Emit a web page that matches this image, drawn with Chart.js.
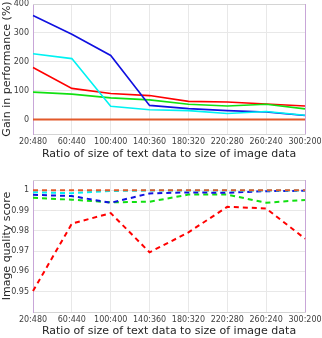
<!DOCTYPE html>
<html>
<head>
<meta charset="utf-8">
<script src="https://cdn.jsdelivr.net/npm/chart.js@4"></script>
<style>
  body { margin: 0; background: #fff; }
  #wrap { position: relative; width: 322px; height: 338px; }
  canvas { position: absolute; left: 0; }
  #gainChart { top: 0; }
  #qualityChart { top: 161px; }
</style>
</head>
<body>
<div id="wrap">
  <canvas id="gainChart" width="322" height="161"></canvas>
  <canvas id="qualityChart" width="322" height="177"></canvas>
</div>
<script>
// categories (text:image size ratio)
const ratios = ['20:480', '60:440', '100:400', '140:360', '180:320', '220:280', '260:240', '300:200'];

// gain in performance (%)
const gainRed    = [180, 108, 90, 83, 63, 61, 54, 47];
const gainGreen  = [95, 88, 75, 68, 53, 47, 53, 37];
const gainBlue   = [360, 295, 222, 49, 38, 31, 26, 14];
const gainCyan   = [228, 211, 46, 34, 31, 21, 28, 15];
const gainOrange = [0, 0, 0, 0, 0, 0, 0, 0];
const gainTicks  = [0, 100, 200, 300, 400];

// image quality score
const qualRed    = [0.9503, 0.9835, 0.9887, 0.9694, 0.9792, 0.9918, 0.9910, 0.9761];
const qualGreen  = [0.9962, 0.9953, 0.9940, 0.9943, 0.9978, 0.9978, 0.9938, 0.9952];
const qualBlue   = [0.9977, 0.9971, 0.9938, 0.9984, 0.9989, 0.9987, 0.9995, 0.9997];
const qualCyan   = [0.9990, 0.9985, 0.9996, 0.9998, 0.9998, 0.9998, 0.9998, 0.9998];
const qualOrange = [1, 1, 1, 1, 1, 1, 1, 1];
const qualTicks  = [0.95, 0.96, 0.97, 0.98, 0.99, 1];

const RED = '#ff0000', GREEN = '#11e011', BLUE = '#1010e0', CYAN = '#00f2f2', ORANGE = '#e2592a';
const PURPLE = '#c8a6d8', GRID = '#e8e8e8', EDGE = '#d4d4d4';

Chart.defaults.font.family = 'DejaVu Sans';
Chart.defaults.color = '#404040';

// right (purple) and top (gray) edges of the axes box
const boxLines = {
    id: 'boxLines',
    beforeDatasetsDraw(chart) {
        const a = chart.chartArea, ctx = chart.ctx;
        ctx.save();
        ctx.lineWidth = 1;
        ctx.strokeStyle = EDGE;
        ctx.beginPath();
        ctx.moveTo(a.left, a.top + 0.5);
        ctx.lineTo(a.right, a.top + 0.5);
        ctx.stroke();
        ctx.strokeStyle = PURPLE;
        ctx.beginPath();
        ctx.moveTo(a.right + 0.5, a.top);
        ctx.lineTo(a.right + 0.5, a.bottom);
        ctx.stroke();
        ctx.restore();
    }
};

function line(data, color, dashed, width) {
    return {
        data: data,
        borderColor: color,
        borderWidth: width || (dashed ? 2 : 1.6),
        borderDash: dashed ? [5, 4] : [],
        pointRadius: 0,
        tension: 0,
        fill: false
    };
}

function axes(yMin, yMax, yTicks, yTitle, xHeight, fmt) {
    return {
        x: {
            offset: false,
            grid: { color: GRID, drawTicks: false },
            border: { color: EDGE },
            ticks: { font: { size: 8 }, padding: 3, maxRotation: 0, autoSkip: false },
            title: {
                display: true,
                text: 'Ratio of size of text data to size of image data',
                font: { size: 11 }, color: '#262626',
                padding: { top: 0, bottom: 0 }
            },
            afterFit: function(s) {
                s.height = xHeight;
                s.paddingLeft = 0;
                s.paddingRight = 0;
            }
        },
        y: {
            min: yMin,
            max: yMax,
            grid: { color: GRID, drawTicks: false },
            border: { color: PURPLE },
            ticks: { font: { size: 8 }, padding: 4, callback: fmt },
            title: {
                display: true,
                text: yTitle,
                font: { size: 11 }, color: '#262626',
                padding: { top: 1, bottom: 0 }
            },
            afterBuildTicks: function(s) {
                s.ticks = yTicks.map(v => ({ value: v }));
            },
            afterFit: function(s) {
                s.width = 33;
                s.paddingTop = 0;
                s.paddingBottom = 0;
            }
        }
    };
}

// Gain in performance chart
new Chart(document.getElementById('gainChart').getContext('2d'), {
    type: 'line',
    data: {
        labels: ratios,
        datasets: [
            line(gainOrange, ORANGE, false, 2),
            line(gainCyan, CYAN, false),
            line(gainBlue, BLUE, false),
            line(gainGreen, GREEN, false),
            line(gainRed, RED, false)
        ]
    },
    options: {
        responsive: false,
        animation: false,
        layout: { padding: { top: 4, right: 17, left: 0, bottom: 0 } },
        scales: axes(-50, 400, gainTicks, 'Gain in performance (%)', 27, v => String(v)),
        plugins: { legend: { display: false }, tooltip: { enabled: false } }
    },
    plugins: [boxLines]
});

// Image quality score chart
new Chart(document.getElementById('qualityChart').getContext('2d'), {
    type: 'line',
    data: {
        labels: ratios,
        datasets: [
            line(qualOrange, ORANGE, true),
            line(qualCyan, CYAN, true),
            line(qualBlue, BLUE, true),
            line(qualGreen, GREEN, true),
            line(qualRed, RED, true)
        ]
    },
    options: {
        responsive: false,
        animation: false,
        layout: { padding: { top: 19, right: 17, left: 0, bottom: 0 } },
        scales: axes(0.94, 1.005, qualTicks, 'Image quality score', 26, v => String(+v.toFixed(2))),
        plugins: { legend: { display: false }, tooltip: { enabled: false } }
    },
    plugins: [boxLines]
});
</script>
</body>
</html>
